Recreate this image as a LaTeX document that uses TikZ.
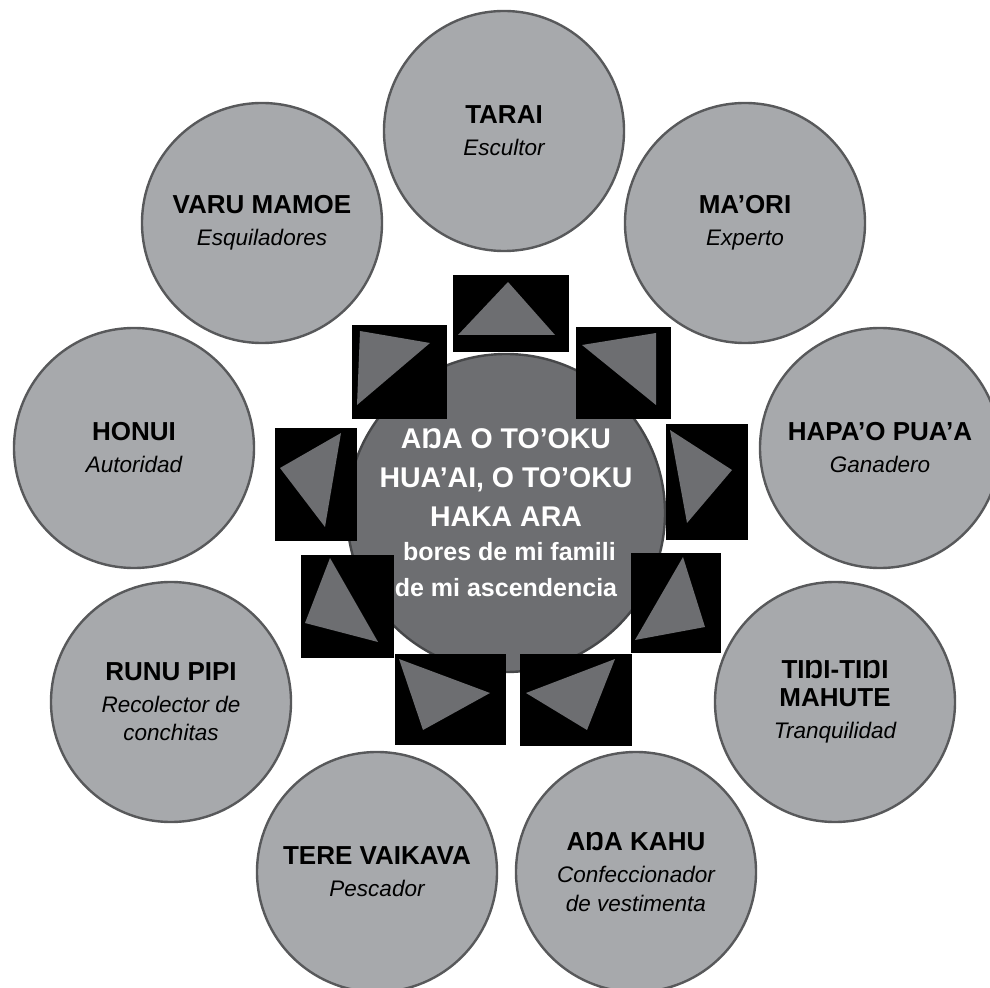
\documentclass[tikz,border=0pt]{standalone}
\usepackage{fontspec}
\setmainfont{Liberation Sans}
\usepackage{xcolor}
\definecolor{ringgray}{HTML}{A7A9AC}
\definecolor{coregray}{HTML}{6D6E71}
\definecolor{edgegray}{HTML}{58595B}
\newcommand{\nombre}[1]{{\fontsize{13}{14}\selectfont\bfseries\upshape #1}}

\begin{document}
\begin{tikzpicture}[x=0.5pt, y=-0.5pt,
		ring/.style={circle, fill=ringgray, draw=edgegray, line width=1.2pt, minimum size=120pt, inner sep=0pt, align=center, text=black, font=\fontsize{11.25}{16}\selectfont\itshape},
		core/.style={circle, fill=coregray, draw=edgegray!80!black, line width=1.2pt, minimum size=159pt, inner sep=0pt, align=center, text=white, font=\fontsize{14.25}{19.5}\selectfont\bfseries},
		tri/.style={fill=coregray}]
		\useasboundingbox (0,0) rectangle (990,988);
		% los nueve oficios
		\node[ring] (tarai) at (504,131) {\nombre{TARAI}\\Escultor};
		\node[ring] (maori) at (745,223) {\nombre{MA’ORI}\\Experto};
		\node[ring] (hapao) at (880,448) {\nombre{HAPA’O PUA’A}\\Ganadero};
		\node[ring] (tini) at (835,702) {\nombre{TIŊI-TIŊI}\\[-2pt]\nombre{MAHUTE}\\Tranquilidad};
		\node[ring] (akahu) at (636,872) {\nombre{AŊA KAHU}\\Confeccionador\\[-1.5pt]de vestimenta};
		\node[ring] (tere) at (377,872) {\nombre{TERE VAIKAVA}\\Pescador};
		\node[ring] (runu) at (171,702) {\nombre{RUNU PIPI}\\Recolector de\\[-2pt]conchitas};
		\node[ring] (honui) at (134,448) {\nombre{HONUI}\\Autoridad};
		\node[ring] (varu) at (262,223) {\nombre{VARU MAMOE}\\Esquiladores};
		% centro
		\node[core] (centro) at (506,513) {AŊA O TO’OKU\\HUA’AI, O TO’OKU\\HAKA ARA\\[-2.5pt]{\fontsize{12.5}{17.5}\selectfont\ bores de mi famili}\\[-1.5pt]{\fontsize{12.5}{17.5}\selectfont de mi ascendencia}};
		% cuadros negros
		\foreach \xa/\ya/\xb/\yb in {453/275/569/352, 352/325/447/419, 576/327/671/419, 275/428/357/541, 666/424/748/540, 301/555/394/658, 631/553/721/653, 395/654/506/745, 520/654/632/746} {
			\fill[black] (\xa,\ya) rectangle (\xb,\yb);
		}
		% triangulos
		\foreach \ax/\ay/\bx/\by/\cx/\cy in {508/282/458/335/555/335, 360/331/430/343/357/405, 582/345/656/333/656/405, 280/468/341/433/325/527, 670/430/732/470/687/523, 330/558/305/623/378/642, 683/557/635/640/705/627, 399/659/490/693/423/730, 615/659/526/693/587/730} {
			\fill[tri] (\ax,\ay) -- (\bx,\by) -- (\cx,\cy) -- cycle;
		}
	\end{tikzpicture}
\end{document}
